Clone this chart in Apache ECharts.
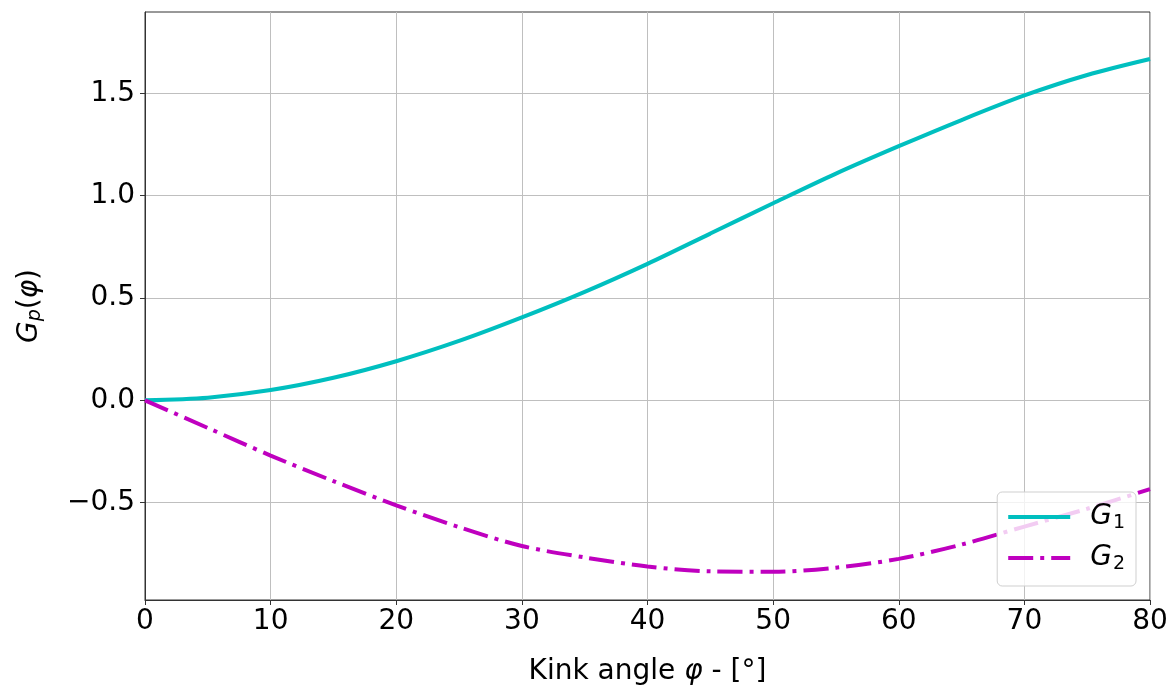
<!DOCTYPE html>
<html>
<head>
<meta charset="utf-8">
<script src="https://cdn.jsdelivr.net/npm/echarts@6/dist/echarts.min.js"></script>
<style>
html,body{margin:0;padding:0;background:#fff;}
#chart{width:1171px;height:691px;}
</style>
</head>
<body>
<div id="chart"></div>
<script>
const angles = [0, 5, 10, 15, 20, 25, 30, 35, 40, 45, 50, 55, 60, 65, 70, 75, 80];
const g1Values = [0, 0.013, 0.05, 0.11, 0.191, 0.29, 0.405, 0.53, 0.667, 0.815, 0.963, 1.108, 1.242, 1.37, 1.49, 1.59, 1.668];
const g2Values = [0, -0.135, -0.27, -0.395, -0.513, -0.62, -0.712, -0.768, -0.812, -0.836, -0.838, -0.818, -0.775, -0.705, -0.617, -0.53, -0.434];
const yTicks = [-0.5, 0.0, 0.5, 1.0, 1.5];
const xTicks = [0, 10, 20, 30, 40, 50, 60, 70, 80];
const seriesNames = ['G1', 'G2'];

const font = 'DejaVu Sans';
const FS = 28;
const chart = echarts.init(document.getElementById('chart'), null, {renderer: 'canvas'});

function pairs(xs, ys) { return xs.map((x, i) => [x, ys[i]]); }

const legendRich = {
  i: {fontFamily: font, fontStyle: 'italic', fontSize: 28, color: '#000', lineHeight: 32, padding: [0, 1, 0, 0]},
  s: {fontFamily: font, fontSize: 19, color: '#000', lineHeight: 32, verticalAlign: 'bottom', padding: [12, 0, 0, 0]}
};

chart.setOption({
  animation: false,
  backgroundColor: '#fff',
  grid: {left: 145, right: 21, top: 12, bottom: 91, show: true, borderColor: '#333', borderWidth: 1, backgroundColor: 'transparent'},
  xAxis: {
    type: 'value', min: 0, max: 80, interval: 10,
    axisLine: {show: true, onZero: false, lineStyle: {color: '#333', width: 1}},
    axisTick: {show: true, length: 5, lineStyle: {color: '#333'}},
    axisLabel: {fontFamily: font, fontSize: FS, color: '#000', margin: 8},
    splitLine: {show: true, lineStyle: {color: '#bfbfbf', width: 1}},
    name: '{n|Kink angle }{i|φ}{n| - [°]}',
    nameLocation: 'middle', nameGap: 58,
    nameTextStyle: {rich: {
      n: {fontFamily: font, fontSize: FS, color: '#000'},
      i: {fontFamily: font, fontSize: FS, color: '#000', fontStyle: 'italic'}
    }}
  },
  yAxis: {
    type: 'value', min: -0.976, max: 1.898,
    axisLine: {show: true, onZero: false, lineStyle: {color: '#333', width: 1}},
    axisTick: {show: true, length: 5, lineStyle: {color: '#333'}, customValues: yTicks},
    axisLabel: {fontFamily: font, fontSize: FS, color: '#000', margin: 10, customValues: yTicks,
      formatter: v => v.toFixed(1).replace('-', '\u2212')},
    splitLine: {show: true, lineStyle: {color: '#bfbfbf', width: 1}},
    name: '{i|G}{s|p}{n|(}{i|φ}{n|)}',
    nameLocation: 'middle', nameGap: 100, nameRotate: 90,
    nameTextStyle: {rich: {
      n: {fontFamily: font, fontSize: FS, color: '#000'},
      i: {fontFamily: font, fontSize: FS, color: '#000', fontStyle: 'italic'},
      s: {fontFamily: font, fontSize: 19, color: '#000', fontStyle: 'italic', verticalAlign: 'bottom', padding: [12, 0, 0, 0]}
    }}
  },
  legend: {
    orient: 'vertical', right: 35, top: 492,
    data: seriesNames,
    itemWidth: 62, itemHeight: 20, itemGap: 10,
    padding: [10, 11, 12, 9],
    backgroundColor: 'rgba(255,255,255,0.8)',
    borderColor: '#cfcfcf', borderWidth: 1, borderRadius: 5,
    itemStyle: {opacity: 0, borderWidth: 0},
    lineStyle: {width: 4},
    formatter: name => '{i|G}{s|' + name.slice(1) + '}',
    textStyle: {rich: legendRich, padding: [0, 0, 0, 15]}
  },
  series: [
    {
      name: seriesNames[0], type: 'line', data: pairs(angles, g1Values),
      smooth: 0.3, showSymbol: false, symbol: 'none',
      lineStyle: {color: '#00bfbf', width: 4}, itemStyle: {color: '#00bfbf'}
    },
    {
      name: seriesNames[1], type: 'line', data: pairs(angles, g2Values),
      smooth: 0.3, showSymbol: false, symbol: 'none',
      lineStyle: {color: '#bf00bf', width: 4, type: [25, 7, 4, 7], cap: 'butt'}, itemStyle: {color: '#bf00bf'}
    }
  ]
});
</script>
</body>
</html>
